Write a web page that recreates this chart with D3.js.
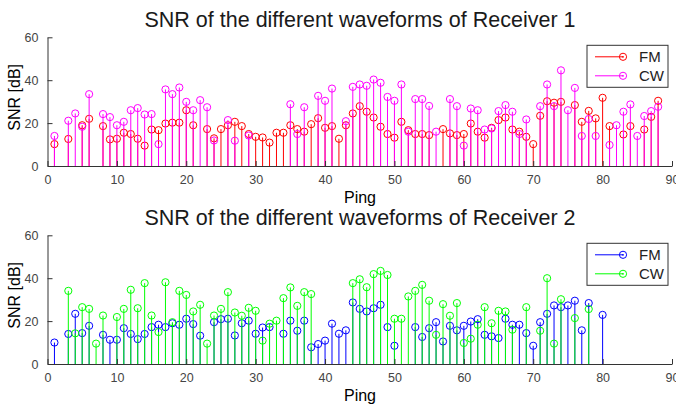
<!DOCTYPE html>
<html lang="en">
<head>
<meta charset="utf-8"/>
<title>SNR of the different waveforms</title>
<script src="https://d3js.org/d3.v7.min.js"></script>
<style>
  body { margin: 0; background: #fff; }
  text { font-family: "Liberation Sans", Arial, sans-serif; }
</style>
</head>
<body>
<script>
// SNR values per ping (index = ping number), null = no detection
var rx1FM = [null, 10.2, null, 12.6, null, 19, 22, null, 18.6, 12.4,
	12.7, 15.5, 14.9, 12.7, 9.5, 17, 16.7, 19.8, 20.2, 20.2,
	26, 19, null, 17.2, 12.9, 17.2, 19, 20.6, 18.6, 14.9,
	13.6, 13.3, 10.9, 15.5, 15.5, 19, 17.2, 16, 19.5, 22.3,
	17.8, 18.6, 12.7, 19, 24.5, 27.9, 25.3, 22.6, 18.3, 14.9,
	13.2, 20.6, 16.7, 14.9, 14.9, 14.4, null, 17.2, 15.2, 14.4,
	14.9, 19.8, 16, 13.2, 17.8, 21.4, 22.6, 17, 16, 13.6,
	10.2, 23.4, 30.2, 29.5, 29.9, null, 28.4, 20.6, 25.7, 22.2,
	31.8, 18.6, null, 14.7, 18.6, null, 17, 22.9, 30.4];
var rx1CW = [null, 14, null, 21.1, 24.5, 18.3, 33.5, null, 24.2, 22.8,
	19, 20.6, 26, 27, 24, 24.2, 10.2, 35.7, 33.5, 36.6,
	29.9, 26, 30.7, 27.4, 11.9, null, 21.4, 11.8, null, 14.2,
	null, null, null, null, null, 28.8, 14.9, 27.4, null, 32.7,
	30.4, 36.1, null, 20.9, 36.9, 38, 37.4, 40.3, 38.8, 32.2,
	30.4, 38, 16, 31.2, 31.2, 28, 16, null, 31.2, 27.9,
	9.5, 26.8, 26, 17, 17.5, 25.6, 28.4, 25.3, 14.9, 21.7,
	null, 27.9, 38, 27.9, 44.6, 26, 36.4, 14, 21.9, 14,
	null, 9.8, 19, 25.3, 28.7, 14, 23.3, 25.6, 27.6];
var rx2FM = [null, 10, null, 14, 23.4, 14.4, 17.8, null, 13.6, 11.3,
	11.3, 16.7, 14, 11.6, 14, 17.2, 18.3, 17.2, 19, 18.3,
	21.1, 18.6, 13.2, null, 19.5, 20.9, 21.1, 13.3, 19, 20.2,
	14.1, 17, 17.2, null, 14.1, 20.2, 15.5, 20.2, 7.8, 9.3,
	10.9, 18.8, 14.1, 15.7, 28.7, 25.7, 24.5, 26, 27.6, 17.2,
	8.5, null, null, 17.2, 12.6, 16.7, 19.5, 10.5, 17.8, 15.7,
	17.8, 19.8, 20.9, 13.6, 12.9, 12.1, 21.1, 18.3, 18.3, 14.4,
	8.5, 19.5, 23.4, 27.3, 26.5, 27.3, 29.5, 15.7, 28.4, null,
	22.9];
var rx2CW = [null, null, null, 34.1, 14.3, 26.5, 25.7, 9.5, 22.6, null,
	21.9, 25.7, 34.6, 26, 37.7, 22.6, 14.9, 38.1, 19.5, 34.1,
	32.2, 24.5, 27.6, 9.5, 22.6, 25.7, 33.5, 24, 22.5, 26.2,
	24.8, 10.9, 18.8, 20.2, 30.7, 35.7, 27.1, 33.5, 32.6, null,
	null, null, null, null, 37.7, 39.5, 35.8, 41.9, 43.4, 41.5,
	21.1, 21.1, 31.5, 34.1, 36.9, 29.5, 13.6, 27.9, 22.5, 28.4,
	9.8, 11.8, 18.3, 26.5, 19, 24.8, 24.5, 16, null, 26.5,
	null, 15.5, 40, 9.5, 30.2, null, 21.4, null, 25.6];

var xTicks = [0, 10, 20, 30, 40, 50, 60, 70, 80, 90];
var yTicks = [0, 20, 40, 60];
var legendNames = ["FM", "CW"];

var w = 676, h = 405;
var svg = d3.select("body").append("svg")
	.attr("width", w)
	.attr("height", h);

var xScale = d3.scaleLinear().domain([0, 90]).range([47.5, 672]);

// one panel: title, axes, stems, legend
function drawPanel(top, title, fm, cw, colFM, colCW) {
	var yScale = d3.scaleLinear().domain([0, 60]).range([top + 128.7, top]);
	var g = svg.append("g");

	g.append("text")
		.attr("x", 360).attr("y", top - 10.5)
		.attr("text-anchor", "middle")
		.attr("font-size", "21.5px")
		.attr("fill", "#1a1a1a")
		.text(title);

	// stems for each series, FM first then CW on top
	[[fm, colFM], [cw, colCW]].forEach(function(s) {
		var pts = s[0].map(function(v, i) { return {ping: i, v: v}; })
			.filter(function(d) { return d.v !== null; });
		var sg = g.append("g");
		sg.selectAll("line").data(pts).enter().append("line")
			.attr("x1", function(d) { return xScale(d.ping); })
			.attr("x2", function(d) { return xScale(d.ping); })
			.attr("y1", yScale(0))
			.attr("y2", function(d) { return yScale(d.v); })
			.attr("stroke", s[1]).attr("stroke-width", 1);
		sg.selectAll("circle").data(pts).enter().append("circle")
			.attr("cx", function(d) { return xScale(d.ping); })
			.attr("cy", function(d) { return yScale(d.v); })
			.attr("r", 3.6)
			.attr("fill", "none")
			.attr("stroke", s[1]).attr("stroke-width", 1);
	});

	// axes with inward ticks
	var xAxis = g.append("g")
		.attr("transform", "translate(0," + yScale(0) + ")")
		.call(d3.axisBottom(xScale).tickValues(xTicks).tickSizeInner(-5).tickSizeOuter(0).tickPadding(9));
	var yAxis = g.append("g")
		.attr("transform", "translate(" + xScale(0) + ",0)")
		.call(d3.axisLeft(yScale).tickValues(yTicks).tickSizeInner(-5).tickSizeOuter(0).tickPadding(9));
	[xAxis, yAxis].forEach(function(a) {
		a.select(".domain").attr("stroke", "#333");
		a.selectAll(".tick line").attr("stroke", "#333");
		a.selectAll(".tick text")
			.attr("fill", "#444")
			.attr("font-size", "12.5px")
			.attr("font-family", "Liberation Sans, Arial, sans-serif");
	});

	g.append("text")
		.attr("transform", "translate(20," + (top + 60) + ") rotate(-90)")
		.attr("text-anchor", "middle")
		.attr("font-size", "16px")
		.text("SNR [dB]");

	g.append("text")
		.attr("x", 360).attr("y", top + 165.5)
		.attr("text-anchor", "middle")
		.attr("font-size", "16px")
		.text("Ping");

	// legend box
	var lg = g.append("g").attr("transform", "translate(587," + (top + 8) + ")");
	lg.append("rect")
		.attr("width", 81).attr("height", 42)
		.attr("fill", "#fff").attr("stroke", "#333");
	[colFM, colCW].forEach(function(c, i) {
		var yy = 11.5 + i * 19;
		lg.append("line").attr("x1", 8).attr("x2", 36).attr("y1", yy).attr("y2", yy)
			.attr("stroke", c);
		lg.append("circle").attr("cx", 36).attr("cy", yy).attr("r", 3.6)
			.attr("fill", "none").attr("stroke", c);
		lg.append("circle").attr("cx", 36).attr("cy", yy).attr("r", 0.9)
			.attr("fill", c);
		lg.append("text").attr("x", 52).attr("y", yy + 5.5)
			.attr("font-size", "15px").attr("fill", "#222")
			.text(legendNames[i]);
	});
}

drawPanel(37.3, "SNR of the different waveforms of Receiver 1", rx1FM, rx1CW, "#ff0000", "#ff00ff");
drawPanel(235.3, "SNR of the different waveforms of Receiver 2", rx2FM, rx2CW, "#0000ff", "#00ff00");
</script>
</body>
</html>
